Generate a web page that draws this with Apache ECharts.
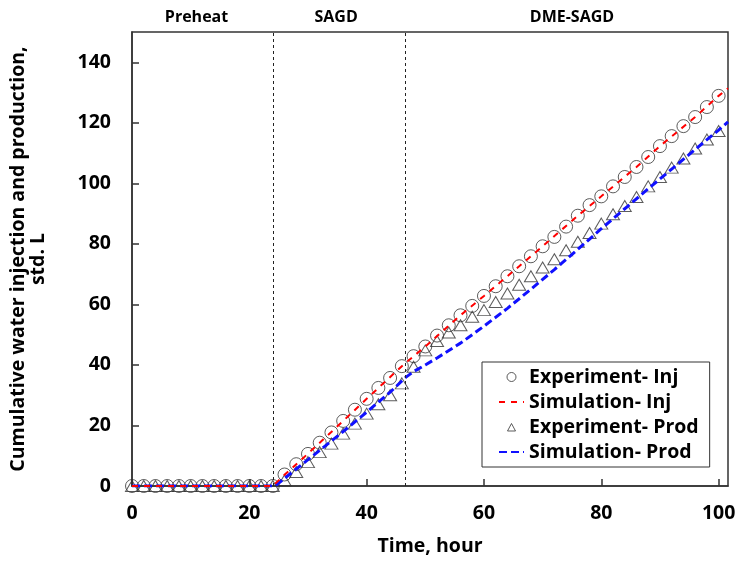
<!DOCTYPE html>
<html><head><meta charset="utf-8">
<script src="https://cdn.jsdelivr.net/npm/echarts@6/dist/echarts.min.js"></script>
<style>html,body{margin:0;padding:0;background:#fff}#c{width:739px;height:562px}</style>
</head><body><div id="c"></div>
<script>
// Experimental data (every 2 hours)
const expTime = [0,2,4,6,8,10,12,14,16,18,20,22,24,26,28,30,32,34,36,38,40,42,44,46,48,50,52,54,56,58,60,62,64,66,68,70,72,74,76,78,80,82,84,86,88,90,92,94,96,98,100];
const expInj = [0,0,0,0,0,0,0,0,0,0,0,0,0,3.8,7.2,10.6,14.3,17.7,21.5,25.2,28.8,32.4,35.7,39.6,42.9,46.1,49.7,53.1,56.4,59.5,62.8,66,69.3,72.6,75.9,79.2,82.3,85.7,89.3,92.8,95.7,99,102.1,105.4,108.7,112.3,115.6,118.9,121.9,125.2,128.9];
const expProd = [0,0,0,0,0,0,0,0,0,0,0,0,0,1.9,4.6,7.9,11.2,14,17.3,20.6,23.9,27,30,33.9,39.4,44.8,47.9,50.7,53.1,55.9,58.1,60.8,63.6,66.5,69.3,72.2,74.9,77.9,80.7,83.6,86.7,89.8,92.5,95.5,99,102.1,105.2,108.2,111.5,114.5,117.3];
// Simulation curves
const simInjTime = [0,24,26,30,36,40,46,50,56,60,66,70,76,80,86,90,96,100,101.6];
const simInj = [0,0,3.7,10.7,21.5,28.8,39.6,46.1,56.4,62.8,72.6,79.2,89.3,95.7,105.4,112.3,121.9,128.9,131.4];
const simProdTime = [0,24,24.5,30,36,40,44,46.6,48,50,52,56,60,64,68,72,76,80,84,88,92,96,100,101.6];
const simProd = [0,0,0.2,8.7,18,24.4,31,35.8,37.8,40,42.3,47.2,52.8,58.7,65,71.5,78.2,85,91.6,98.2,104.7,111.2,117.6,120.3];
// Phases
const phaseBoundaries = [24, 46.6];
const phaseNames = ['Preheat', 'SAGD', 'DME-SAGD'];
const phaseLabelX = [11, 34.8, 75];
// Axes
const xMin = 0, xMax = 101.6, xStep = 20;
const yMin = 0, yMax = 150, yStep = 20;

const zip = (a, b) => a.map((v, i) => [v, b[i]]);
const FONT = '"Open Sans", "Noto Sans", sans-serif';
const chart = echarts.init(document.getElementById('c'), null, {renderer: 'canvas'});
const hollow = {color: 'rgba(0,0,0,0)', borderColor: '#333', borderWidth: 1};
const noSym = {color: 'rgba(0,0,0,0)', borderWidth: 0, opacity: 0};
// small triangle inside a 25x9 icon box (keeps its shape)
const legendTriangle = 'path://M0,0M25,9M8.5,8.5L12.5,1L16.5,8.5Z';

const option = {
  animation: false,
  backgroundColor: '#fff',
  textStyle: {fontFamily: FONT},
  grid: {left: 132, top: 32, right: 11, bottom: 76, show: true, borderColor: '#333', borderWidth: 1.5, backgroundColor: 'transparent'},
  legend: {
    orient: 'vertical', left: 482, top: 362,
    borderColor: '#333', borderWidth: 1, padding: [5, 11, 5, 16],
    itemGap: 5, itemWidth: 25, itemHeight: 9,
    textStyle: {fontFamily: FONT, fontSize: 19.5, fontWeight: 'bold', color: '#000'},
    data: [
      {name: 'Experiment- Inj', icon: 'circle', itemStyle: hollow},
      {name: 'Simulation- Inj', itemStyle: noSym},
      {name: 'Experiment- Prod', icon: legendTriangle, itemStyle: hollow},
      {name: 'Simulation- Prod', itemStyle: noSym}
    ]
  },
  xAxis: {
    type: 'value', min: xMin, max: xMax, interval: xStep,
    name: 'Time, hour', nameLocation: 'middle', nameGap: 50,
    nameTextStyle: {fontFamily: FONT, fontSize: 19.5, fontWeight: 'bold', color: '#000'},
    axisLine: {lineStyle: {color: '#333', width: 1.5}},
    axisTick: {inside: true, length: 7, lineStyle: {color: '#333', width: 1.5}},
    axisLabel: {margin: 17, fontFamily: FONT, fontSize: 19.5, fontWeight: 'bold', color: '#000', showMaxLabel: false},
    splitLine: {show: false}
  },
  yAxis: {
    type: 'value', min: yMin, max: yMax, interval: yStep,
    name: 'Cumulative water injection and production,\nstd. L', nameLocation: 'middle', nameGap: 84,
    nameTextStyle: {fontFamily: FONT, fontSize: 19.5, fontWeight: 'bold', color: '#000', lineHeight: 20},
    axisLine: {lineStyle: {color: '#333', width: 1.5}},
    axisTick: {inside: true, length: 7, lineStyle: {color: '#333', width: 1.5}},
    axisLabel: {margin: 21, fontFamily: FONT, fontSize: 19.5, fontWeight: 'bold', color: '#000', showMaxLabel: false},
    splitLine: {show: false}
  },
  series: [
    {
      name: 'Experiment- Inj', type: 'scatter', z: 2,
      symbol: 'circle', symbolSize: 13,
      itemStyle: hollow,
      data: zip(expTime, expInj)
    },
    {
      name: 'Simulation- Inj', type: 'line', z: 4, showSymbol: false, symbol: 'none',
      lineStyle: {color: '#ff0000', width: 2, type: [6, 6]},
      itemStyle: {color: '#ff0000'},
      data: zip(simInjTime, simInj),
      markLine: {
        silent: true, symbol: ['none', 'none'], label: {show: false},
        lineStyle: {color: '#222', width: 1, type: [3, 3]},
        data: phaseBoundaries.map(v => ({xAxis: v}))
      }
    },
    {
      name: 'Experiment- Prod', type: 'scatter', z: 2,
      symbol: 'triangle', symbolSize: [13, 11],
      itemStyle: hollow,
      data: zip(expTime, expProd)
    },
    {
      name: 'Simulation- Prod', type: 'line', z: 3, showSymbol: false, symbol: 'none',
      lineStyle: {color: '#1010ff', width: 3, type: [8, 4]},
      itemStyle: {color: '#1010ff'},
      data: zip(simProdTime, simProd)
    }
  ]
};
chart.setOption(option);

const gridTop = chart.getModel().getComponent('grid').coordinateSystem.getRect().y;
chart.setOption({
  graphic: phaseNames.map((n, i) => ({
    type: 'text',
    x: chart.convertToPixel({xAxisIndex: 0}, phaseLabelX[i]),
    y: gridTop - 15,
    style: {text: n, fontFamily: FONT, fontSize: 16, fontWeight: 'bold', fill: '#000', align: 'center', verticalAlign: 'middle'}
  }))
});
</script>
</body></html>
